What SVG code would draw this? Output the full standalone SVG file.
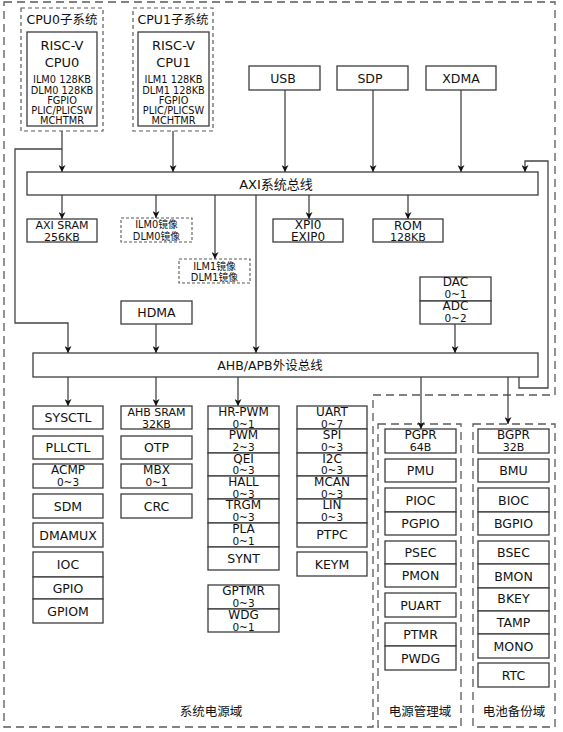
<svg xmlns="http://www.w3.org/2000/svg" width="563" height="732" viewBox="0 0 563 732">
<style>
.b{fill:#fff;stroke:#3c3c3c;stroke-width:1.3}
.dm{fill:none;stroke:#5a5a5a;stroke-width:1.3;stroke-dasharray:8 5}
.ds{fill:#fff;stroke:#5a5a5a;stroke-width:1.2;stroke-dasharray:4 3}
.dx{fill:#fff;stroke:#5a5a5a;stroke-width:1.1;stroke-dasharray:3 2}
.c{fill:none;stroke:#444;stroke-width:1.3}
text{font-family:"DejaVu Sans","Noto Sans CJK SC",sans-serif;fill:#111;text-anchor:middle;font-size:12.5px}
.n{font-size:12px}
.s{font-size:10.5px}
.m{font-size:9.8px}
.l{font-size:13px}
.k{font-size:11px}
</style>
<defs>
<marker id="a" viewBox="0 0 10 10" refX="10" refY="5" markerWidth="7" markerHeight="7" orient="auto" markerUnits="userSpaceOnUse">
<path d="M0,0 L10,5 L0,10 L3,5 z" fill="#111"/>
</marker>
</defs>

<g id="domains">
<path class="dm" d="M4,2 H555 V395 H373 V727 H4 Z"/>
<rect class="dm" x="378" y="424" width="83" height="303"/>
<rect class="dm" x="473" y="424" width="82" height="303"/>
<text x="211" y="716">系统电源域</text>
<text x="420" y="716">电源管理域</text>
<text x="514" y="716">电池备份域</text>
</g>

<g id="connectors" class="c" marker-end="url(#a)">
<path d="M62,126 V172"/>
<path d="M62,149 H15 V323 H68 V353"/>
<path d="M173,126 V172"/>
<path d="M285,90 V172"/>
<path d="M373,90 V172"/>
<path d="M461,90 V172"/>
<path d="M519,377 V388 H548 V161 H525 V172"/>
<path d="M62,195 V219"/>
<path d="M156,195 V218"/>
<path d="M215,195 V259"/>
<path d="M256,195 V353"/>
<path d="M309,195 V219"/>
<path d="M408,195 V219"/>
<path d="M156,324 V353"/>
<path d="M455,324 V353"/>
<path d="M68,377 V406"/>
<path d="M156,377 V406"/>
<path d="M238,377 V406"/>
<path d="M421,377 V429"/>
<path d="M508,377 V424"/>
</g>

<g id="cpu0">
<rect class="ds" x="21" y="8" width="82" height="123" fill="none"/>
<text x="62" y="23.5">CPU0子系统</text>
<rect class="b" x="27" y="32" width="70" height="94"/>
<text class="l" x="62" y="49.7">RISC-V</text>
<text class="l" x="62" y="66.5">CPU0</text>
<text class="m" x="62" y="82.6">ILM0 128KB</text>
<text class="m" x="62" y="93.6">DLM0 128KB</text>
<text class="m" x="62" y="103.6">FGPIO</text>
<text class="m" x="62" y="113.6">PLIC/PLICSW</text>
<text class="m" x="62" y="123.6">MCHTMR</text>
</g>
<g id="cpu1">
<rect class="ds" x="133" y="8" width="80" height="123"/>
<text x="173" y="23.5">CPU1子系统</text>
<rect class="b" x="138" y="32" width="71" height="94"/>
<text class="l" x="173.5" y="49.7">RISC-V</text>
<text class="l" x="173.5" y="66.5">CPU1</text>
<text class="m" x="173.5" y="82.6">ILM1 128KB</text>
<text class="m" x="173.5" y="93.6">DLM1 128KB</text>
<text class="m" x="173.5" y="103.6">FGPIO</text>
<text class="m" x="173.5" y="113.6">PLIC/PLICSW</text>
<text class="m" x="173.5" y="123.6">MCHTMR</text>
</g>

<g id="usb"><rect class="b" x="249" y="66" width="71" height="24"/><text x="283" y="82.5">USB</text></g>
<g id="sdp"><rect class="b" x="337" y="66" width="71" height="24"/><text x="370" y="82.5">SDP</text></g>
<g id="xdma"><rect class="b" x="426" y="66" width="70" height="24"/><text x="461" y="82.5">XDMA</text></g>

<g id="axi"><rect class="b" x="27" y="172" width="511" height="23"/><text class="l" x="276" y="188.5">AXI系统总线</text></g>

<g id="axisram"><rect class="b" x="27" y="219" width="70" height="23"/><text class="k" x="62" y="229">AXI SRAM</text><text class="k" x="62" y="241">256KB</text></g>
<g id="ilm0"><rect class="dx" x="121" y="218" width="71" height="24"/><text class="m" x="156.5" y="228">ILM0镜像</text><text class="m" x="156.5" y="240">DLM0镜像</text></g>
<g id="ilm1"><rect class="dx" x="179" y="259" width="71" height="24"/><text class="m" x="214.5" y="270">ILM1镜像</text><text class="m" x="214.5" y="281">DLM1镜像</text></g>
<g id="xpi0"><rect class="b" x="273" y="219" width="70" height="23"/><text class="n" x="308" y="228.5">XPI0</text><text class="n" x="308" y="241">EXIP0</text></g>
<g id="rom"><rect class="b" x="373" y="219" width="70" height="23"/><text class="n" x="408" y="229.5">ROM</text><text class="k" x="408" y="241">128KB</text></g>

<g id="dacadc">
<rect class="b" x="420" y="277" width="71" height="24"/><text class="n" x="455.5" y="286">DAC</text><text class="s" x="455.5" y="298">0~1</text>
<rect class="b" x="420" y="301" width="71" height="23"/><text class="n" x="455.5" y="309.5">ADC</text><text class="s" x="455.5" y="321.5">0~2</text>
</g>
<g id="hdma"><rect class="b" x="121" y="301" width="71" height="23"/><text x="156.5" y="317">HDMA</text></g>

<g id="ahb"><rect class="b" x="33" y="353" width="505" height="24"/><text x="270" y="369.5">AHB/APB外设总线</text></g>

<g id="col1">
<rect class="b" x="33" y="406" width="70" height="23"/><text x="68" y="422">SYSCTL</text>
<rect class="b" x="33" y="436" width="70" height="23"/><text x="68" y="452">PLLCTL</text>
<rect class="b" x="33" y="464" width="70" height="24"/><text class="n" x="68" y="474">ACMP</text><text class="s" x="68" y="486">0~3</text>
<rect class="b" x="33" y="494" width="70" height="24"/><text x="68" y="510.5">SDM</text>
<rect class="b" x="33" y="523" width="70" height="24"/><text x="68" y="539.5">DMAMUX</text>
<rect class="b" x="33" y="552" width="70" height="25"/><text x="68" y="569">IOC</text>
<rect class="b" x="33" y="577" width="70" height="22"/><text x="68" y="592.5">GPIO</text>
<rect class="b" x="33" y="599" width="70" height="24"/><text x="68" y="615.5">GPIOM</text>
</g>

<g id="col2">
<rect class="b" x="121" y="406" width="71" height="23"/><text class="k" x="156.5" y="416">AHB SRAM</text><text class="k" x="156.5" y="427.5">32KB</text>
<rect class="b" x="121" y="436" width="71" height="23"/><text x="156.5" y="452">OTP</text>
<rect class="b" x="121" y="464" width="71" height="24"/><text class="n" x="156.5" y="474">MBX</text><text class="s" x="156.5" y="486">0~1</text>
<rect class="b" x="121" y="494" width="71" height="24"/><text x="156.5" y="510.5">CRC</text>
</g>

<g id="col3">
<rect class="b" x="208" y="406" width="71" height="23"/><text class="n" x="243.5" y="415.5">HR-PWM</text><text class="s" x="243.5" y="427.5">0~1</text>
<rect class="b" x="208" y="429" width="71" height="24"/><text class="n" x="243.5" y="439">PWM</text><text class="s" x="243.5" y="451">2~3</text>
<rect class="b" x="208" y="453" width="71" height="23"/><text class="n" x="243.5" y="462.5">QEI</text><text class="s" x="243.5" y="474">0~3</text>
<rect class="b" x="208" y="476" width="71" height="23"/><text class="n" x="243.5" y="486">HALL</text><text class="s" x="243.5" y="497.5">0~3</text>
<rect class="b" x="208" y="499" width="71" height="24"/><text class="n" x="243.5" y="509">TRGM</text><text class="s" x="243.5" y="521">0~3</text>
<rect class="b" x="208" y="523" width="71" height="24"/><text class="n" x="243.5" y="533">PLA</text><text class="s" x="243.5" y="545">0~1</text>
<rect class="b" x="208" y="547" width="71" height="23"/><text x="243.5" y="563">SYNT</text>
<rect class="b" x="208" y="585" width="71" height="24"/><text class="n" x="243.5" y="595">GPTMR</text><text class="s" x="243.5" y="607">0~3</text>
<rect class="b" x="208" y="609" width="71" height="23"/><text class="n" x="243.5" y="618.5">WDG</text><text class="s" x="243.5" y="630.5">0~1</text>
</g>

<g id="col4">
<rect class="b" x="297" y="406" width="70" height="23"/><text class="n" x="332" y="415.5">UART</text><text class="s" x="332" y="427.5">0~7</text>
<rect class="b" x="297" y="429" width="70" height="24"/><text class="n" x="332" y="439">SPI</text><text class="s" x="332" y="451">0~3</text>
<rect class="b" x="297" y="453" width="70" height="23"/><text class="n" x="332" y="462.5">I2C</text><text class="s" x="332" y="474">0~3</text>
<rect class="b" x="297" y="476" width="70" height="23"/><text class="n" x="332" y="486">MCAN</text><text class="s" x="332" y="497.5">0~3</text>
<rect class="b" x="297" y="499" width="70" height="24"/><text class="n" x="332" y="509">LIN</text><text class="s" x="332" y="521">0~3</text>
<rect class="b" x="297" y="523" width="70" height="24"/><text x="332" y="539">PTPC</text>
<rect class="b" x="297" y="552" width="70" height="24"/><text x="332" y="568.5">KEYM</text>
</g>

<g id="pmdomain">
<rect class="b" x="385" y="429" width="71" height="24"/><text class="n" x="420.5" y="439">PGPR</text><text class="k" x="420.5" y="451">64B</text>
<rect class="b" x="385" y="459" width="71" height="23"/><text x="420.5" y="475">PMU</text>
<rect class="b" x="385" y="488" width="71" height="24"/><text x="420.5" y="504.5">PIOC</text>
<rect class="b" x="385" y="512" width="71" height="23"/><text x="420.5" y="528">PGPIO</text>
<rect class="b" x="385" y="541" width="71" height="23"/><text x="420.5" y="557">PSEC</text>
<rect class="b" x="385" y="564" width="71" height="23"/><text x="420.5" y="580">PMON</text>
<rect class="b" x="385" y="593" width="71" height="24"/><text x="420.5" y="609.5">PUART</text>
<rect class="b" x="385" y="623" width="71" height="23"/><text x="420.5" y="639">PTMR</text>
<rect class="b" x="385" y="646" width="71" height="24"/><text x="420.5" y="662.5">PWDG</text>
</g>

<g id="bkdomain">
<rect class="b" x="478" y="429" width="71" height="24"/><text class="n" x="513.5" y="439">BGPR</text><text class="k" x="513.5" y="451">32B</text>
<rect class="b" x="478" y="459" width="71" height="23"/><text x="513.5" y="475">BMU</text>
<rect class="b" x="478" y="488" width="71" height="24"/><text x="513.5" y="504.5">BIOC</text>
<rect class="b" x="478" y="512" width="71" height="23"/><text x="513.5" y="528">BGPIO</text>
<rect class="b" x="478" y="541" width="71" height="23"/><text x="513.5" y="557">BSEC</text>
<rect class="b" x="478" y="564" width="71" height="24"/><text x="513.5" y="580.5">BMON</text>
<rect class="b" x="478" y="588" width="71" height="23"/><text x="513.5" y="603">BKEY</text>
<rect class="b" x="478" y="611" width="71" height="23"/><text x="513.5" y="627">TAMP</text>
<rect class="b" x="478" y="634" width="71" height="24"/><text x="513.5" y="650.5">MONO</text>
<rect class="b" x="478" y="663" width="71" height="24"/><text x="513.5" y="679.5">RTC</text>
</g>
</svg>
